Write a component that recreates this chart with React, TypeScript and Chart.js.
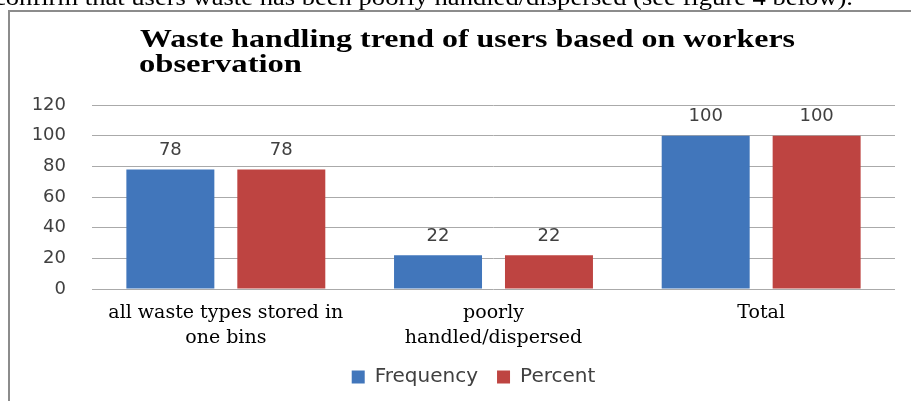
import React, { useEffect, useRef } from "react";
import { Chart, registerables } from "chart.js";

Chart.register(...registerables);

// ---- data ----
const categories: (string | string[])[] = [
  ["all waste types stored in", "one bins"],
  ["poorly", "handled/dispersed"],
  ["Total"],
];
const seriesNames = ["Frequency", "Percent"];
const frequencyValues = [78, 22, 100];
const percentValues = [78, 22, 100];
const yTickValues = [0, 20, 40, 60, 80, 100, 120];
const titleLines = ["Waste handling trend of users based on workers", "observation"];
const pageTextLine = "confirm that users waste has been poorly handled/dispersed (see figure 4 below).";

const seriesColors = ["#4176BB", "#BE4441"];
const textGray = "#404040";
const gridGray = "#aaaaaa";

const valueLabelPlugin = {
  id: "valueLabels",
  afterDatasetsDraw(chart: any) {
    const ctx = chart.ctx;
    ctx.save();
    ctx.font = "18px 'DejaVu Sans'";
    ctx.fillStyle = textGray;
    ctx.textAlign = "center";
    ctx.textBaseline = "middle";
    chart.data.datasets.forEach((ds: any, i: number) => {
      const meta = chart.getDatasetMeta(i);
      meta.data.forEach((bar: any, j: number) => {
        ctx.fillText(String(ds.data[j]), bar.x, bar.y - 19);
      });
    });
    ctx.restore();
  },
};

// nudges the legend box to the right so it sits where the original legend is
const legendOffsetPlugin = {
  id: "legendOffset",
  afterLayout(chart: any) {
    const lg = chart.legend;
    if (lg) {
      lg.left += 21;
      lg.right += 21;
    }
  },
};

export default function App() {
  const canvasRef = useRef<HTMLCanvasElement | null>(null);

  useEffect(() => {
    const canvas = canvasRef.current;
    if (!canvas) return;
    const chart = new Chart(canvas, {
      type: "bar",
      data: {
        labels: categories,
        datasets: [
          {
            label: seriesNames[0],
            data: frequencyValues,
            backgroundColor: seriesColors[0],
            barPercentage: 0.793,
            categoryPercentage: 0.829,
          },
          {
            label: seriesNames[1],
            data: percentValues,
            backgroundColor: seriesColors[1],
            barPercentage: 0.793,
            categoryPercentage: 0.829,
          },
        ],
      },
      options: {
        animation: false,
        responsive: false,
        devicePixelRatio: 1,
        layout: { padding: { top: 93, right: 16, left: 0, bottom: 4 } },
        scales: {
          x: {
            afterFit: (scale: any) => {
              scale.height = 59;
            },
            grid: { display: false, drawTicks: false },
            border: { display: false },
            ticks: {
              color: "#000000",
              padding: 12,
              maxRotation: 0,
              autoSkip: false,
              font: { family: "'DejaVu Serif'", size: 19, lineHeight: 1.3 },
            },
          },
          y: {
            min: 0,
            max: 120,
            afterBuildTicks: (scale: any) => {
              scale.ticks = yTickValues.map((v) => ({ value: v }));
            },
            afterFit: (scale: any) => {
              scale.width = 82;
            },
            grid: { color: gridGray, lineWidth: 1, drawTicks: false },
            border: { display: false },
            ticks: {
              color: textGray,
              padding: 26,
              font: { family: "'DejaVu Sans'", size: 18 },
            },
          },
        },
        plugins: {
          title: { display: false },
          tooltip: { enabled: false },
          legend: {
            display: true,
            position: "bottom",
            labels: {
              color: textGray,
              boxWidth: 13,
              boxHeight: 13,
              padding: 19,
              font: { family: "'DejaVu Sans'", size: 20 },
            },
          },
        },
      },
      plugins: [valueLabelPlugin, legendOffsetPlugin],
    } as any);
    return () => chart.destroy();
  }, []);

  return (
    <div
      style={{
        position: "absolute",
        left: 0,
        top: 0,
        width: 911,
        height: 401,
        overflow: "hidden",
        background: "#ffffff",
      }}
    >
      <div
        style={{
          position: "absolute",
          left: 8,
          top: 10,
          width: 920,
          height: 420,
          borderTop: "2px solid #8c8c8c",
          borderLeft: "2px solid #8c8c8c",
        }}
      />
      <canvas
        ref={canvasRef}
        width={901}
        height={389}
        style={{ position: "absolute", left: 10, top: 12, width: 901, height: 389 }}
      />
      <svg
        width={911}
        height={401}
        style={{ position: "absolute", left: 0, top: 0, pointerEvents: "none" }}
      >
        <text
          x={-6}
          y={5}
          textLength={859}
          lengthAdjust="spacingAndGlyphs"
          fontFamily="'Liberation Serif'"
          fontSize={24}
          fill="#000"
        >
          {pageTextLine}
        </text>
        <text
          x={140}
          y={47}
          textLength={655}
          lengthAdjust="spacingAndGlyphs"
          fontFamily="'Liberation Serif'"
          fontWeight="bold"
          fontSize={25}
          fill="#000"
        >
          {titleLines[0]}
        </text>
        <text
          x={139}
          y={72}
          textLength={163}
          lengthAdjust="spacingAndGlyphs"
          fontFamily="'Liberation Serif'"
          fontWeight="bold"
          fontSize={25}
          fill="#000"
        >
          {titleLines[1]}
        </text>
      </svg>
    </div>
  );
}
